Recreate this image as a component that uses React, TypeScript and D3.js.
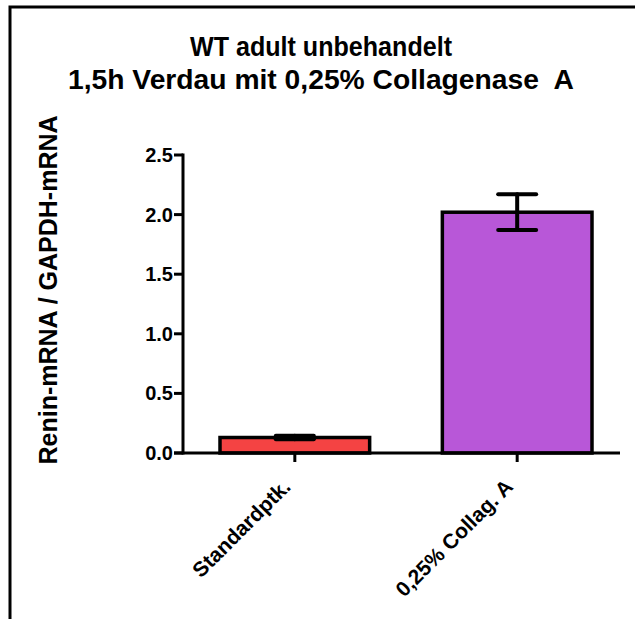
import React from "react";
import * as d3 from "d3";

const categories = ["Standardptk.", "0,25% Collag. A"];
const means = [0.13, 2.02];
const sems = [0.015, 0.15];
const barColors = ["#F44343", "#B857D8"];
const yTicks = [0, 0.5, 1.0, 1.5, 2.0, 2.5];
const titleLines = ["WT adult unbehandelt", "1,5h Verdau mit 0,25% Collagenase  A"];
const titleWidths = [262, 506];
const yLabel = "Renin-mRNA / GAPDH-mRNA";

export default function App() {
  const W = 635, H = 619;
  const y = d3.scaleLinear().domain([0, 2.5]).range([453, 155]);
  const x = d3.scaleBand<string>().domain(categories).range([220, 592]).paddingInner(0.327).paddingOuter(0);
  const axisX = 183;
  const font = "Arial, 'Liberation Sans', Helvetica, sans-serif";
  const fmt = d3.format(".1f");
  return (
    <svg width={W} height={H} style={{ position: "absolute", left: 0, top: 0, background: "#fff" }} fontFamily={font}>
      <rect x={0} y={0} width={W} height={H} fill="#fff" />
      {/* frame */}
      <path d={`M10,${H} L10,7 L${W},7`} fill="none" stroke="#000" strokeWidth={3} />
      {/* title */}
      {titleLines.map((t, i) => (
        <text key={i} x={321} y={56 + i * 33} textAnchor="middle" fontSize={27} fontWeight="bold"
          textLength={titleWidths[i]} lengthAdjust="spacingAndGlyphs" style={{ whiteSpace: "pre" }}>{t}</text>
      ))}
      {/* y label */}
      <text transform={`translate(57,290) rotate(-90)`} textAnchor="middle" fontSize={25} fontWeight="bold">{yLabel}</text>
      {/* bars */}
      {categories.map((c, i) => (
        <rect key={c} x={x(c)!} y={y(means[i])} width={x.bandwidth()} height={y(0) - y(means[i])}
          fill={barColors[i]} stroke="#000" strokeWidth={3.5} />
      ))}
      {/* error bars */}
      {categories.map((c, i) => {
        const cx = x(c)! + x.bandwidth() / 2;
        const hi = y(means[i] + sems[i]);
        const lo = y(means[i] - sems[i]);
        return (
          <g key={c} stroke="#000" strokeWidth={4} strokeLinecap="round">
            <line x1={cx} x2={cx} y1={hi} y2={lo} />
            <line x1={cx - 19} x2={cx + 19} y1={hi} y2={hi} />
            <line x1={cx - 19} x2={cx + 19} y1={lo} y2={lo} />
          </g>
        );
      })}
      {/* y axis */}
      <line x1={axisX} x2={axisX} y1={y(2.5) - 1.5} y2={y(0) + 1.5} stroke="#000" strokeWidth={3} />
      {yTicks.map((t) => (
        <g key={t}>
          <line x1={axisX - 9} x2={axisX} y1={y(t)} y2={y(t)} stroke="#000" strokeWidth={3} />
          <text x={173} y={y(t) + 7} textAnchor="end" fontSize={20} fontWeight="bold">{fmt(t)}</text>
        </g>
      ))}
      {/* x axis */}
      <line x1={axisX - 9} x2={620} y1={y(0)} y2={y(0)} stroke="#000" strokeWidth={3} />
      {categories.map((c) => {
        const cx = x(c)! + x.bandwidth() / 2;
        return (
          <g key={c}>
            <line x1={cx} x2={cx} y1={y(0)} y2={y(0) + 9} stroke="#000" strokeWidth={3} />
            <text transform={`translate(${cx - 3},${y(0) + 35}) rotate(-45)`} textAnchor="end" fontSize={21} fontWeight="bold">{c}</text>
          </g>
        );
      })}
    </svg>
  );
}
